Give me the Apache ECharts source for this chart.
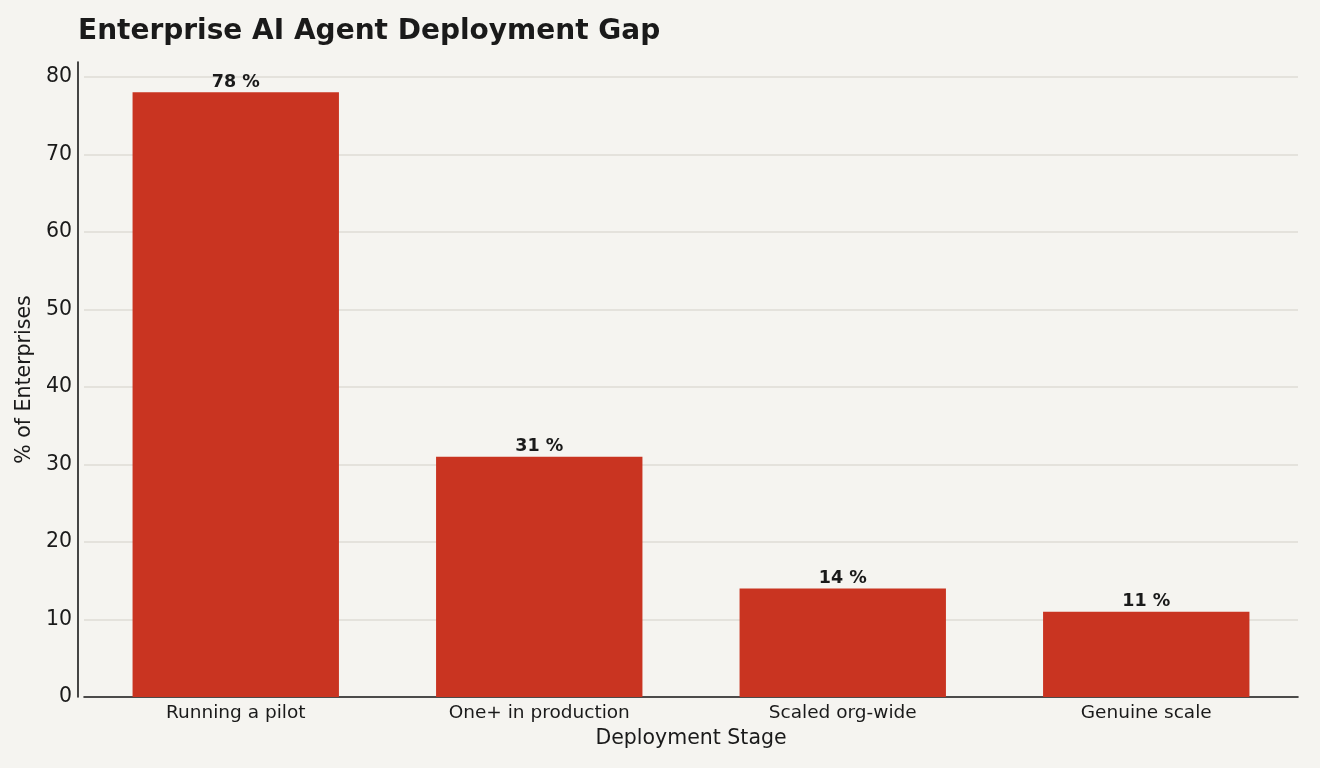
<!DOCTYPE html>
<html>
<head>
<meta charset="utf-8">
<script src="https://cdn.jsdelivr.net/npm/echarts@6/dist/echarts.min.js"></script>
<style>
  html, body { margin: 0; padding: 0; background: #f5f4f0; }
  #chart { width: 1320px; height: 768px; }
</style>
</head>
<body>
<div id="chart"></div>
<script>
// 数据
const stages = ['Running a pilot', 'One+ in production', 'Scaled org-wide', 'Genuine scale'];
const shares = [78, 31, 14, 11];
const yTicks = [0, 10, 20, 30, 40, 50, 60, 70, 80];

const FONT = 'DejaVu Sans';
const myChart = echarts.init(document.getElementById('chart'));

// 网格线颜色，最后一条（顶部）透明
const gridColors = yTicks.map(() => '#dedcd6').concat(['rgba(0,0,0,0)']);

const option = {
    backgroundColor: '#f5f4f0',
    textStyle: { fontFamily: FONT },
    title: {
        text: 'Enterprise AI Agent Deployment Gap',
        left: 73,
        top: 13,
        textStyle: { fontSize: 28, fontWeight: 'bold', color: '#1a1a1a', fontFamily: FONT }
    },
    grid: { left: 84, right: 22, top: 62, bottom: 71 },
    xAxis: {
        type: 'category',
        data: stages,
        name: 'Deployment Stage',
        nameLocation: 'middle',
        nameGap: 31,
        nameTextStyle: { fontSize: 20.5, color: '#1a1a1a', fontFamily: FONT },
        axisLine: { lineStyle: { color: '#1a1a1a', width: 1.6 } },
        axisTick: { show: false },
        axisLabel: { fontSize: 18.5, color: '#1a1a1a', margin: 7, fontFamily: FONT }
    },
    yAxis: {
        type: 'value',
        min: 0,
        max: 81.9,
        interval: 10,
        offset: 6,
        name: '% of Enterprises',
        nameLocation: 'middle',
        nameGap: 30,
        nameTextStyle: { fontSize: 20.5, color: '#1a1a1a', fontFamily: FONT },
        axisLine: { show: true, lineStyle: { color: '#1a1a1a', width: 1.6 } },
        axisTick: { show: false },
        axisLabel: {
            fontSize: 20.5, color: '#1a1a1a', margin: 6, fontFamily: FONT,
            formatter: v => (yTicks.indexOf(v) >= 0 ? String(v) : '')
        },
        splitLine: { show: true, lineStyle: { color: gridColors, width: 1.5 } }
    },
    series: [
        {
            type: 'bar',
            data: shares,
            barWidth: '68%',
            itemStyle: { color: '#c93421' },
            label: {
                show: true,
                position: 'top',
                distance: 1,
                formatter: p => p.value + ' %',
                fontSize: 17.5,
                fontWeight: 'bold',
                color: '#1a1a1a',
                fontFamily: FONT
            }
        }
    ]
};

myChart.setOption(option);
</script>
</body>
</html>
